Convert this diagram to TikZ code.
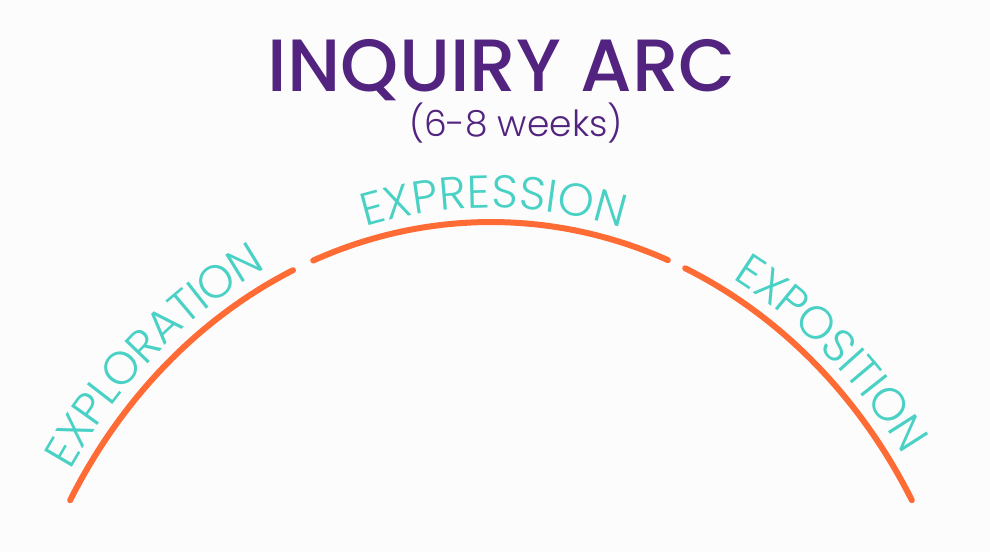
\documentclass[tikz,border=0pt]{standalone}
\usepackage{fontspec}
\setmainfont{Poppins}
\newfontfamily\titlefont{Poppins Medium}
\newfontfamily\thinfont{Poppins Light}
\usetikzlibrary{decorations.text}

\definecolor{arcpurple}{HTML}{52237F}
\definecolor{arcteal}{HTML}{48D1C4}
\definecolor{arcorange}{HTML}{FF6B35}
\definecolor{arcbg}{HTML}{FCFCFC}

\newcommand{\phasefont}{\fontsize{46}{48}\selectfont\thinfont}

\begin{document}
\begin{tikzpicture}[x=1pt, y=1pt,
    phase/.style={draw=arcorange, line width=6pt, line cap=round},
    phaselabel/.style={decorate, decoration={text effects along path, text={#1},
        text effects/.cd, text along path, fit text to path,
        characters={text=arcteal, font=\phasefont, anchor=base, inner sep=0pt}}}]
    \fill[arcbg] (0,0) rectangle (990,552);
    \useasboundingbox (0,0) rectangle (990,552);

    % Title
    \node[anchor=base, text=arcpurple, font=\fontsize{74}{80}\selectfont\titlefont] (title) at (502,460) {INQUIRY ARC};
    \node[anchor=base, text=arcpurple, font=\fontsize{36}{40}\selectfont\thinfont] (weeks) at (516,415) {(6-8 weeks)};

    % Centre of the arc
    \coordinate (C) at (491,-223);

    % Arc segments
    \draw[phase] (C) ++(150.2:485 and 553) arc[start angle=150.2, end angle=114.1, x radius=485, y radius=553];
    \draw[phase] (C) ++(111.5:485 and 553) arc[start angle=111.5, end angle=68.6, x radius=485, y radius=553];
    \draw[phase] (C) ++(66.4:485 and 553) arc[start angle=66.4, end angle=29.8, x radius=485, y radius=553];

    % Labels along the arc
    \path[phaselabel=EXPLORATION]
        (C) ++(147.5:499 and 567) arc[start angle=147.5, end angle=116.7, x radius=499, y radius=567];
    \path[phaselabel=EXPRESSION]
        (C) ++(104.6:499 and 567) arc[start angle=104.6, end angle=74.8, x radius=499, y radius=567];
    \path[phaselabel=EXPOSITION]
        (C) ++(61.1:499 and 567) arc[start angle=61.1, end angle=34.3, x radius=499, y radius=567];
\end{tikzpicture}
\end{document}
